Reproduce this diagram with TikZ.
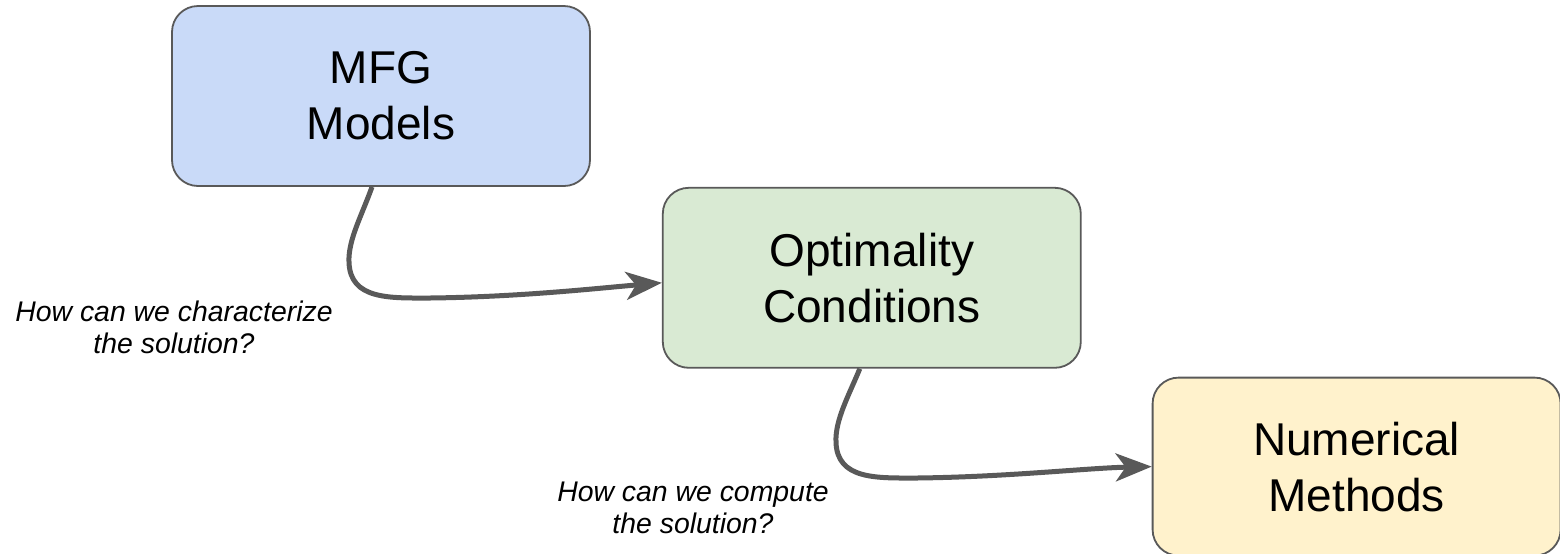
\documentclass[tikz,border=0pt]{standalone}
\usepackage{fontspec}
\setmainfont{Liberation Sans}
\usepackage{xcolor}
\usepackage{tikz}
\usetikzlibrary{arrows.meta, positioning, calc}

\definecolor{mfgblue}{HTML}{C9DAF8}
\definecolor{optgreen}{HTML}{D9EAD3}
\definecolor{numyellow}{HTML}{FFF2CC}
\definecolor{edgegray}{HTML}{595959}

\begin{document}
\begin{tikzpicture}[
  x=0.5pt, y=-0.5pt,
  >=Stealth,
  box/.style={
    rectangle, rounded corners=13pt, text centered, align=center,
    minimum width=209pt, minimum height=90pt, inner sep=0pt,
    draw=edgegray, line width=0.9pt,
    font=\fontsize{23}{28}\selectfont
  },
  mfgbox/.style={box, fill=mfgblue},
  optbox/.style={box, fill=optgreen},
  numbox/.style={box, fill=numyellow, minimum width=204pt, minimum height=89pt},
  arr/.style={-{Stealth[length=18pt, width=14pt, inset=5pt]}, line width=2.5pt, color=edgegray},
  question/.style={align=center, inner sep=0pt, font=\fontsize{14.2}{16}\selectfont\itshape},
]
\useasboundingbox (0,0) rectangle (1560,553);
%% Boxes
\node[mfgbox] (mfg) at (381,96) {MFG\\Models};
\node[optbox, below right=0pt and 35.5pt of mfg] (opt) {Optimality\\Conditions};
\node[numbox, below right=4pt and 35pt of opt]   (num) {Numerical\\Methods};
%% Arrows
\draw[arr] ($(mfg.south)+(-9,0)$) .. controls (362,215) and (348,240) .. (349,262)
  .. controls (350,300) and (390,298) .. (430,298)
  .. controls (520,297) and (600,288) .. ($(opt.west)+(0,5)$);
\draw[arr] ($(opt.south)+(-12,0)$) .. controls (849,395) and (835,420) .. (836,442)
  .. controls (837,480) and (877,478) .. (917,478)
  .. controls (1007,477) and (1087,468) .. (num.west);
%% Questions
\node[question] (q1) at (174,327) {How can we characterize\\the solution?};
\node[question] (q2) at (693,508) {How can we compute\\the solution?};
\end{tikzpicture}
\end{document}
